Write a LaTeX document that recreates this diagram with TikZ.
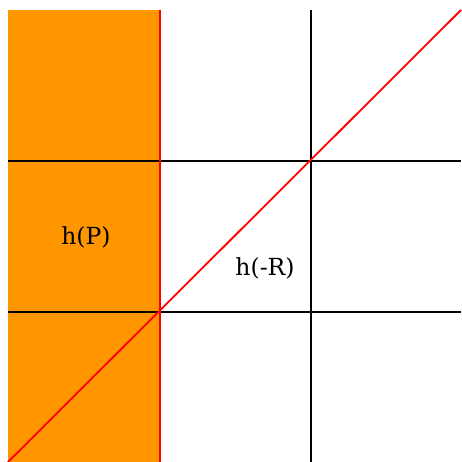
\documentclass[tikz,border=0pt]{standalone}
\usepackage{fontspec}
\setmainfont{DejaVu Serif}
\definecolor{orangefill}{HTML}{FF9600}
\begin{document}
\begin{tikzpicture}[x=1pt,y=-1pt,
  gridline/.style={black,line width=1.8pt},
  redline/.style={red,line width=1.8pt},
  lab/.style={font=\fontsize{23.5}{26}\selectfont}]
\useasboundingbox (0,0) rectangle (461,462);
\fill[orangefill] (8,10) rectangle (160,462);
\coordinate (h1l) at (8,161);
\coordinate (h1r) at (461,161);
\coordinate (h2l) at (8,312);
\coordinate (h2r) at (461,312);
\coordinate (v2t) at (311,10);
\coordinate (v2b) at (311,462);
\coordinate (v1t) at (160,10);
\coordinate (v1b) at (160,462);
\coordinate (dbl) at (8,462);
\coordinate (dtr) at (461,10);
\draw[gridline] (h1l) -- (h1r);
\draw[gridline] (h2l) -- (h2r);
\draw[gridline] (v2t) -- (v2b);
\draw[redline] (v1t) -- (v1b);
\draw[redline] (dbl) -- (dtr);
\node[lab] (hp) at (86,237) {h(P)};
\node[lab] (hr) at (265,268) {h(-R)};
\end{tikzpicture}
\end{document}
